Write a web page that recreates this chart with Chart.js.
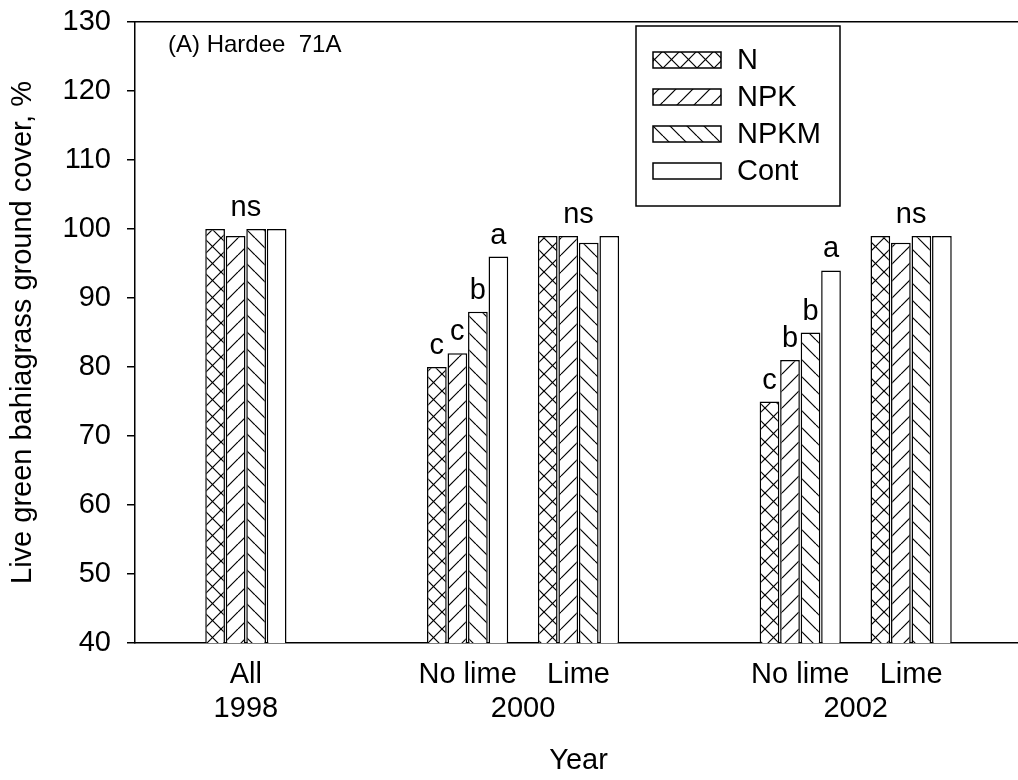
<!DOCTYPE html>
<html><head><meta charset="utf-8">
<script src="https://cdn.jsdelivr.net/npm/chart.js@4"></script>
<style>html,body{margin:0;padding:0;background:#fff;overflow:hidden}
#wrap{position:relative;width:1022px;height:780px}</style>
</head><body><div id="wrap"><canvas id="c"></canvas></div>
<script>
// ---- data ----
const categories    = ['', 'All', '', 'No lime', 'Lime', '', 'No lime', 'Lime', ''];
const categoryYears = ['', '1998', '', '2000', '2000', '', '2002', '2002', ''];
const seriesNames   = ['N', 'NPK', 'NPKM', 'Cont'];
const valuesN    = [null, 100, null, 80, 99, null, 75, 99, null];
const valuesNPK  = [null,  99, null, 82, 99, null, 81, 98, null];
const valuesNPKM = [null, 100, null, 88, 98, null, 85, 99, null];
const valuesCont = [null, 100, null, 96, 99, null, 94, 99, null];
const lettersN    = ['', '', '', 'c', '', '', 'c', '', ''];
const lettersNPK  = ['', '', '', 'c', '', '', 'b', '', ''];
const lettersNPKM = ['', '', '', 'b', '', '', 'b', '', ''];
const lettersCont = ['', '', '', 'a', '', '', 'a', '', ''];
const groupLetters = ['', 'ns', '', '', 'ns', '', '', 'ns', ''];
const yMin = 40, yMax = 130, yStep = 10;
const panelLabel = '(A) Hardee  71A';
const yTitle = 'Live green bahiagrass ground cover, %';
const xTitle = 'Year';

// ---- year ticks derived from categories ----
const yearList = [...new Set(categoryYears.filter(y => y))];
const yearTicks = yearList.map(y => {
  const idx = categoryYears.map((v, i) => v === y ? i : -1).filter(i => i >= 0);
  return { value: idx.reduce((a, b) => a + b, 0) / idx.length, label: y };
});

// ---- hatch patterns ----
const P = 17;
function makePattern(kind) {
  const c = document.createElement('canvas');
  c.width = P; c.height = P;
  const g = c.getContext('2d');
  g.fillStyle = '#fff'; g.fillRect(0, 0, P, P);
  g.strokeStyle = '#000'; g.lineWidth = 1.2;
  for (const o of [-P, 0, P]) {
    if (kind === 'fwd' || kind === 'cross') { g.beginPath(); g.moveTo(o, P); g.lineTo(o + P, 0); g.stroke(); }
    if (kind === 'back' || kind === 'cross') { g.beginPath(); g.moveTo(o, 0); g.lineTo(o + P, P); g.stroke(); }
  }
  return g.createPattern(c, 'repeat');
}
const fills = [makePattern('cross'), makePattern('fwd'), makePattern('back'), '#ffffff'];

const FONT = 'Liberation Sans, Arial, Helvetica, sans-serif';
const f29 = { family: FONT, size: 29 };

const seriesValues = [valuesN, valuesNPK, valuesNPKM, valuesCont];
const seriesLetters = [lettersN, lettersNPK, lettersNPKM, lettersCont];

const datasets = seriesNames.map((name, i) => ({
  label: name,
  data: seriesValues[i],
  letters: seriesLetters[i],
  backgroundColor: fills[i],
  borderColor: '#000',
  borderWidth: 1.5,
  categoryPercentage: 0.74,
  barPercentage: 0.96,
  xAxisID: 'x',
  yAxisID: 'y'
}));

function noPad(s) { s.paddingLeft = 0; s.paddingRight = 0; s.paddingTop = 0; s.paddingBottom = 0; }

const annotate = {
  id: 'annotate',
  afterDatasetsDraw(chart) {
    const ctx = chart.ctx;
    ctx.save();
    ctx.fillStyle = '#000';
    ctx.font = '29px ' + FONT;
    ctx.textAlign = 'center';
    ctx.textBaseline = 'alphabetic';
    chart.data.datasets.forEach((ds, i) => {
      const meta = chart.getDatasetMeta(i);
      meta.data.forEach((bar, j) => {
        const L = ds.letters[j];
        if (L && ds.data[j] != null) ctx.fillText(L, bar.x, bar.y - 13);
      });
    });
    groupLetters.forEach((g, j) => {
      if (!g) return;
      const bars = chart.data.datasets.map((ds, i) => chart.getDatasetMeta(i).data[j]);
      const xs = bars.map(b => b.x), ys = bars.map(b => b.y);
      ctx.fillText(g, (Math.min(...xs) + Math.max(...xs)) / 2, Math.min(...ys) - 13);
    });
    // panel label
    const ca = chart.chartArea;
    ctx.textAlign = 'left';
    ctx.font = '24px ' + FONT;
    ctx.fillText(panelLabel, ca.left + 33, ca.top + 30);
    // legend
    const lx = 636, ly = 26, lw = 204, lh = 180;
    ctx.lineWidth = 1.5; ctx.strokeStyle = '#000';
    ctx.fillStyle = '#fff';
    ctx.fillRect(lx, ly, lw, lh);
    ctx.strokeRect(lx, ly, lw, lh);
    ctx.font = '29px ' + FONT;
    ctx.textBaseline = 'middle';
    chart.data.datasets.forEach((ds, i) => {
      const cy = 60 + i * 37;
      ctx.fillStyle = ds.backgroundColor;
      ctx.fillRect(653, cy - 8, 68, 16);
      ctx.lineWidth = 1.5;
      ctx.strokeRect(653, cy - 8, 68, 16);
      ctx.fillStyle = '#000';
      ctx.fillText(ds.label, 737, cy + 1);
    });
    ctx.restore();
  }
};

new Chart(document.getElementById('c'), {
  type: 'bar',
  data: { labels: categories, datasets },
  plugins: [annotate],
  options: {
    responsive: true,
    maintainAspectRatio: false,
    animation: false,
    devicePixelRatio: 1,
    layout: { padding: 0 },
    plugins: { legend: { display: false }, tooltip: { enabled: false } },
    scales: {
      x: {
        type: 'category',
        position: 'bottom',
        offset: false,
        grid: { display: false, drawTicks: false, offset: false },
        border: { display: true, color: '#000', width: 1.5 },
        ticks: { font: f29, color: '#000', padding: 15, autoSkip: false, maxRotation: 0, minRotation: 0 },
        afterFit: s => { s.height = 48; noPad(s); }
      },
      x2: {
        type: 'linear',
        position: 'bottom',
        offset: false,
        min: 0, max: categories.length - 1,
        grid: { display: false, drawTicks: false, offset: false },
        border: { display: false },
        ticks: {
          font: f29, color: '#000', padding: 1, autoSkip: false, maxRotation: 0, minRotation: 0,
          callback: v => { const t = yearTicks.find(t => Math.abs(t.value - v) < 1e-6); return t ? t.label : ''; }
        },
        afterBuildTicks: s => { s.ticks = yearTicks.map(t => ({ value: t.value })); },
        title: { display: true, text: xTitle, font: f29, color: '#000', padding: { top: 0, bottom: 2 } },
        afterFit: s => { s.height = 89; noPad(s); }
      },
      x3: {
        type: 'linear',
        position: 'top',
        offset: false,
        min: 0, max: 1,
        grid: { display: false, drawTicks: false, offset: false },
        ticks: { display: false },
        border: { display: true, color: '#000', width: 1.5 },
        afterFit: s => { s.height = 22; noPad(s); }
      },
      y: {
        type: 'linear',
        position: 'left',
        min: yMin, max: yMax,
        ticks: { stepSize: yStep, font: f29, color: '#000', padding: 16 },
        grid: { display: true, drawOnChartArea: false, drawTicks: true, tickLength: 8, color: '#000', lineWidth: 1.5 },
        border: { display: true, color: '#000', width: 1.5 },
        title: { display: true, text: yTitle, font: f29, color: '#000', padding: { top: 6, bottom: 0 } },
        afterFit: s => { s.width = 135; noPad(s); }
      }
    }
  }
});
</script>
</body></html>
